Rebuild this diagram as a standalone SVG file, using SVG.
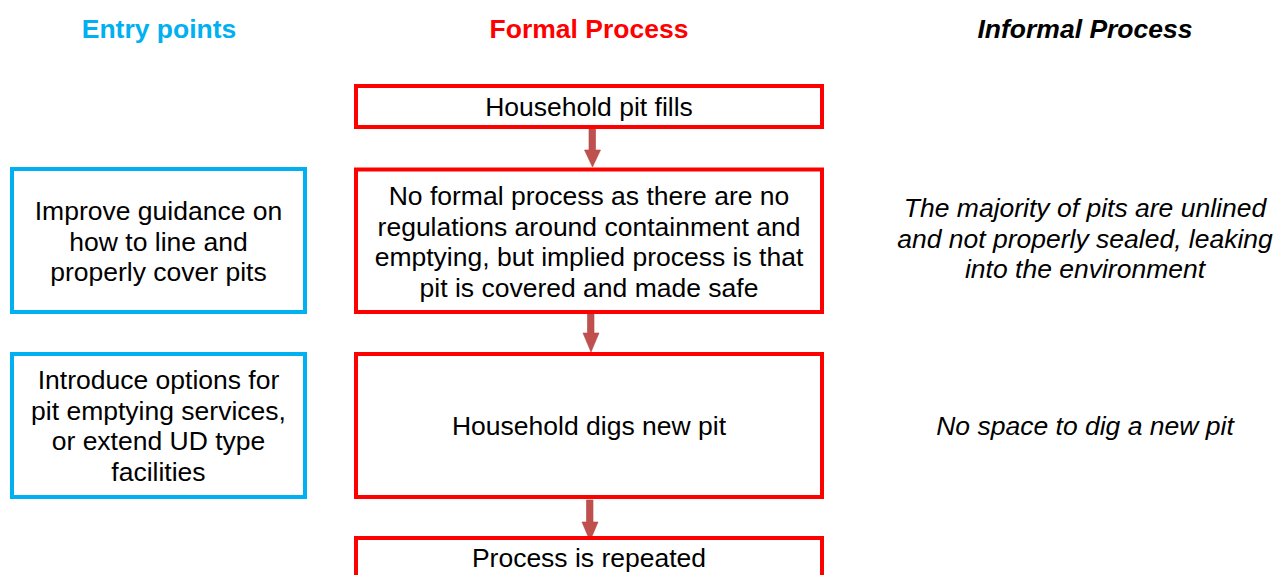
<svg xmlns="http://www.w3.org/2000/svg" width="1276" height="575" viewBox="0 0 1276 575">
<style>
text{font-family:"Liberation Sans",Arial,sans-serif;font-size:26.5px;text-anchor:middle;fill:#000}
.hd{font-weight:bold}
.it{font-style:italic}
.red{fill:#fff;stroke:#FF0000;stroke-width:4}
.blue{fill:#fff;stroke:#00B0F0;stroke-width:4}
.arr{fill:#C0504D;stroke:#B04845;stroke-width:0.6}
</style>
<rect width="1276" height="575" fill="#fff"/>
<g id="headers">
<text class="hd" x="159" y="38" style="fill:#00B0F0">Entry points</text>
<text class="hd" x="589" y="38" style="fill:#FF0000">Formal Process</text>
<text class="hd it" x="1085" y="38">Informal Process</text>
</g>
<g id="connectors">
<path class="arr" d="M589,129 H595.5 V150 H600.5 L592.5,167 L584.5,150 H589 Z"/>
<path class="arr" d="M587.5,314 H594 V333 H599 L591,352 L583,333 H587.5 Z"/>
<path class="arr" d="M586.5,500 H593 V522 H598 L590,541 L582,522 H586.5 Z"/>
</g>
<g id="formal1">
<rect class="red" x="356" y="86" width="466" height="41"/>
<text x="589" y="116">Household pit fills</text>
</g>
<g id="formal2">
<rect class="red" x="356" y="169.5" width="466" height="142.5"/>
<text x="589" y="205">No formal process as there are no</text>
<text x="589" y="235.5">regulations around containment and</text>
<text x="589" y="266">emptying, but implied process is that</text>
<text x="589" y="296.5">pit is covered and made safe</text>
</g>
<g id="formal3">
<rect class="red" x="356" y="354" width="466" height="143"/>
<text x="589" y="434.5">Household digs new pit</text>
</g>
<g id="formal4">
<rect class="red" x="356" y="538" width="466" height="60"/>
<text x="589" y="567">Process is repeated</text>
</g>
<g id="entry1">
<rect class="blue" x="12" y="169" width="293" height="143"/>
<text x="158.5" y="220">Improve guidance on</text>
<text x="158.5" y="250.5">how to line and</text>
<text x="158.5" y="281">properly cover pits</text>
</g>
<g id="entry2">
<rect class="blue" x="12" y="354" width="293" height="143"/>
<text x="158.5" y="389">Introduce options for</text>
<text x="158.5" y="419.5">pit emptying services,</text>
<text x="158.5" y="450">or extend UD type</text>
<text x="158.5" y="480.5">facilities</text>
</g>
<g id="informal1">
<text class="it" x="1085" y="217">The majority of pits are unlined</text>
<text class="it" x="1085" y="247.5">and not properly sealed, leaking</text>
<text class="it" x="1085" y="278">into the environment</text>
</g>
<g id="informal2">
<text class="it" x="1085" y="434.5">No space to dig a new pit</text>
</g>
</svg>
